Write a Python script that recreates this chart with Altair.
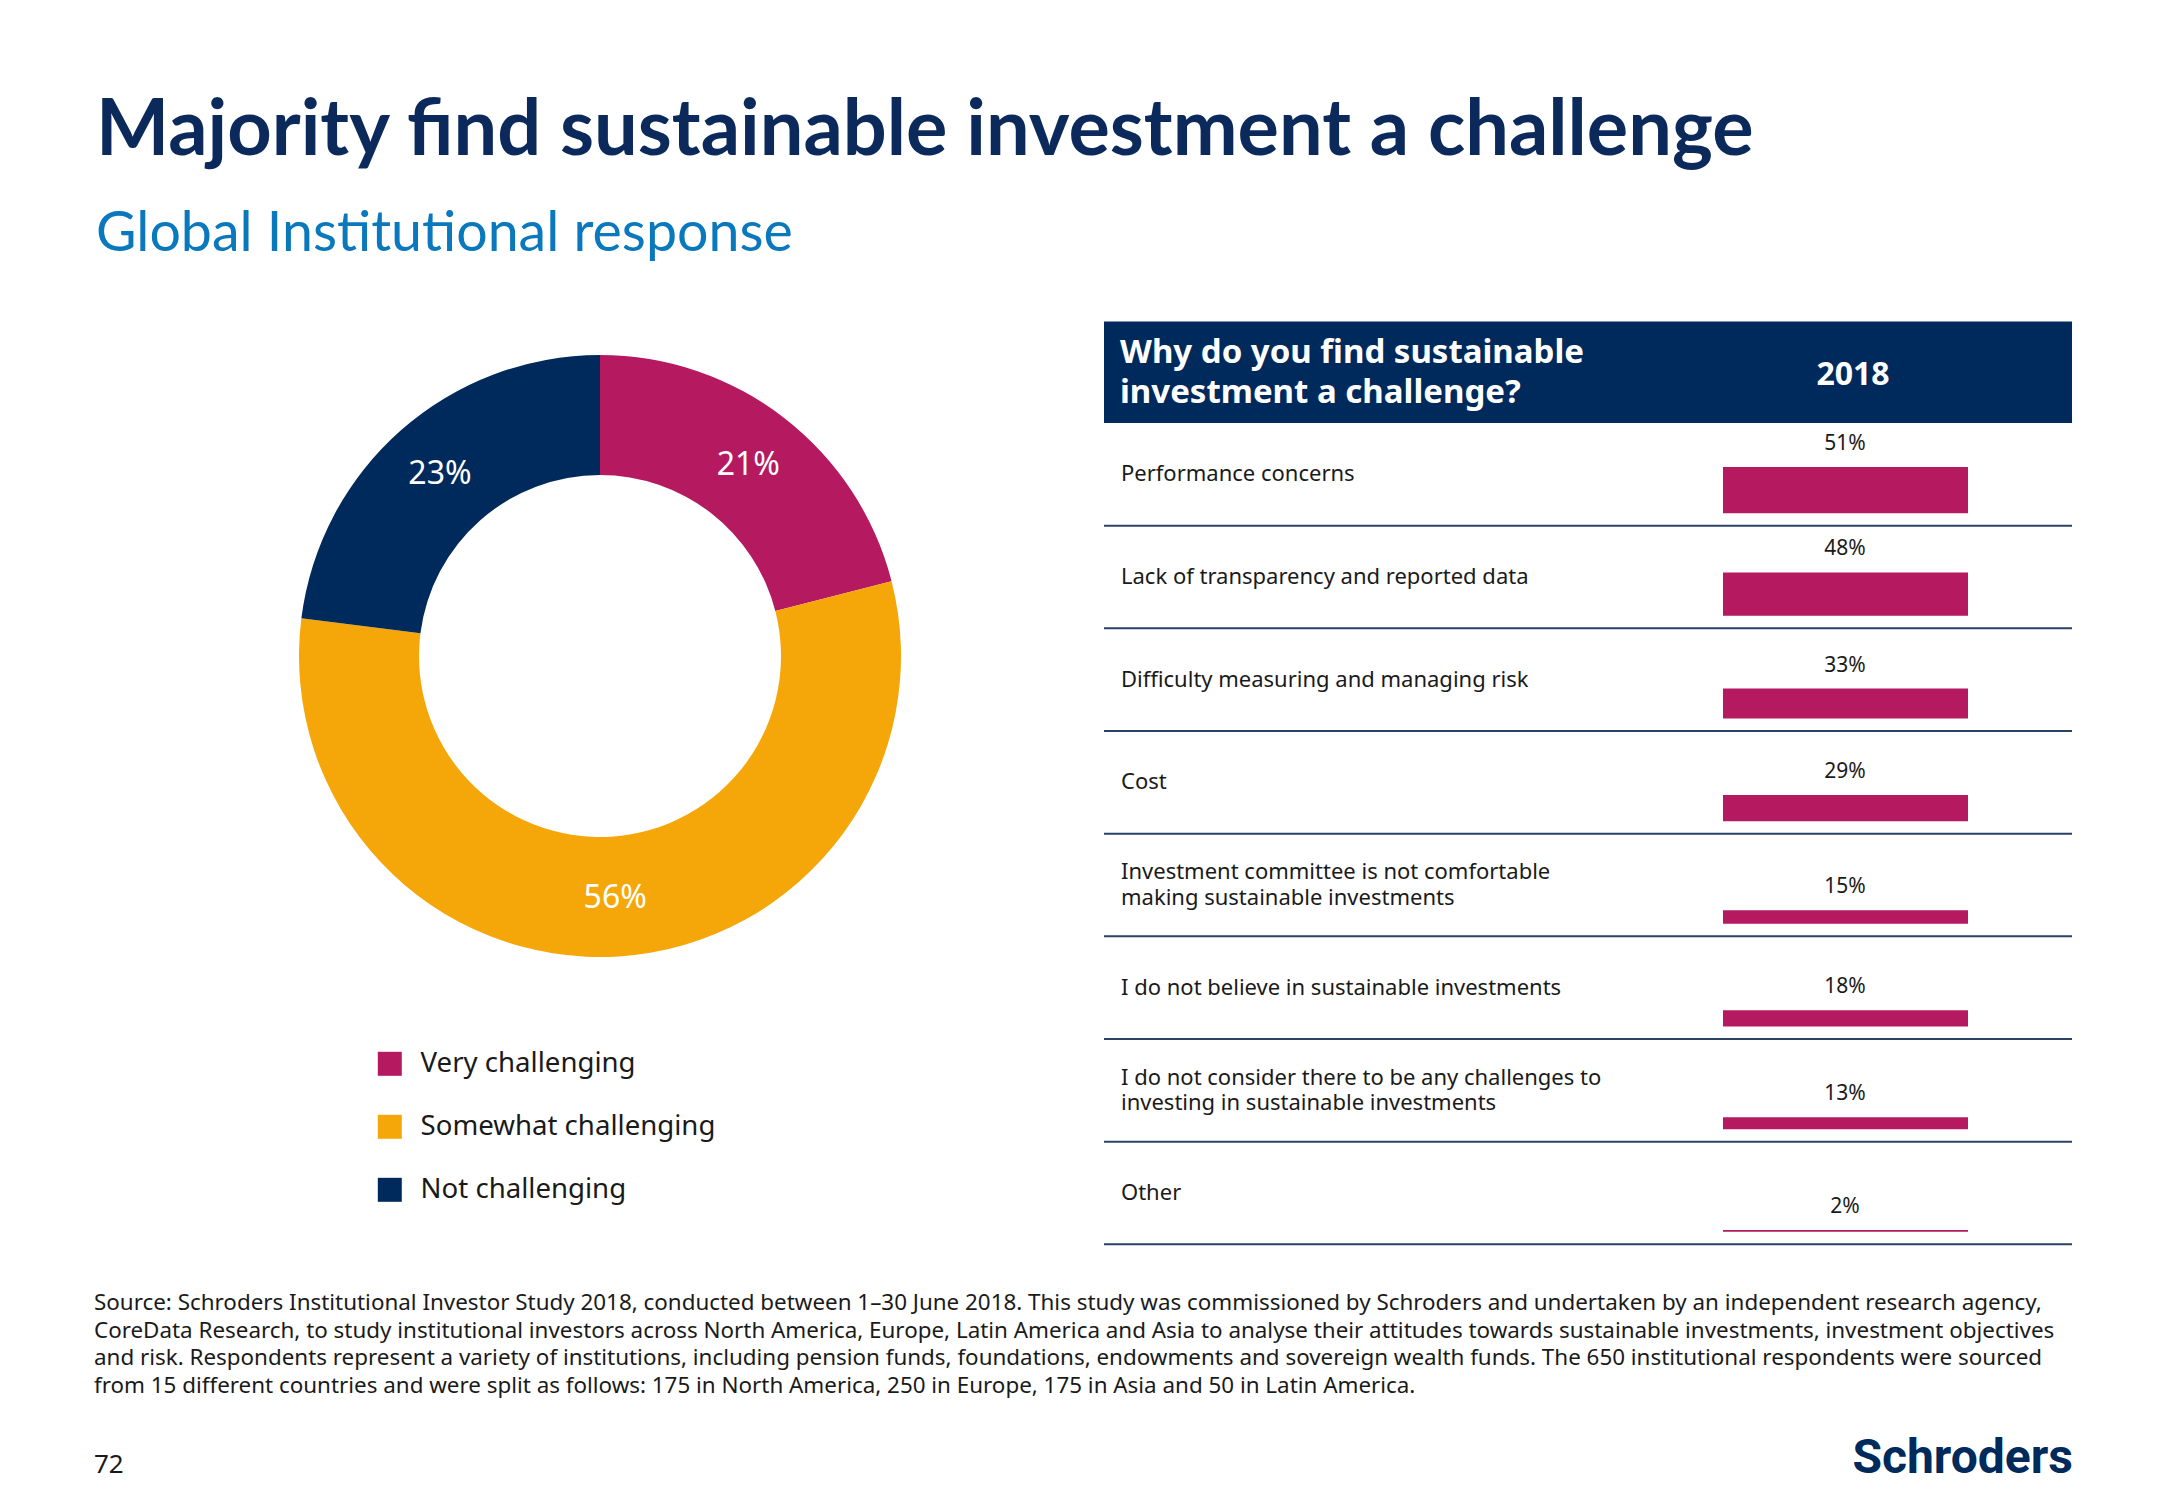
import altair as alt
import pandas as pd

# ---------------- data ----------------
title_text = "Majority find sustainable investment a challenge"
subtitle_text = "Global Institutional response"

donut_categories = ["Very challenging", "Somewhat challenging", "Not challenging"]
donut_values = [21, 56, 23]
donut_colors = ["#b5195f", "#f5a70a", "#002a5c"]

table_question = ["Why do you find sustainable", "investment a challenge?"]
table_year = "2018"
reasons = [
    "Performance concerns",
    "Lack of transparency and reported data",
    "Difficulty measuring and managing risk",
    "Cost",
    "Investment committee is not comfortable\nmaking sustainable investments",
    "I do not believe in sustainable investments",
    "I do not consider there to be any challenges to\ninvesting in sustainable investments",
    "Other",
]
reason_values = [51, 48, 33, 29, 15, 18, 13, 2]

footnote_lines = [
    "Source: Schroders Institutional Investor Study 2018, conducted between 1\u201330 June 2018. This study was commissioned by Schroders and undertaken by an independent research agency,",
    "CoreData Research, to study institutional investors across North America, Europe, Latin America and Asia to analyse their attitudes towards sustainable investments, investment objectives",
    "and risk. Respondents represent a variety of institutions, including pension funds, foundations, endowments and sovereign wealth funds. The 650 institutional respondents were sourced",
    "from 15 different countries and were split as follows: 175 in North America, 250 in Europe, 175 in Asia and 50 in Latin America.",
]
page_number = "72"
brand = "Schroders"

# ---------------- layout (page pixels, minus 8px page margin) ----------------
W, H = 2151, 1484
M = 8

NAVY = "#002a5c"
MAGENTA = "#b5195f"
TEXT = "#1a1a1a"
BODY_FONT = "Noto Sans"
HEAD_FONT = "Lato"

def text_layer(txt, x, y, **kw):
    return alt.Chart(pd.DataFrame({"t": [txt]})).mark_text(**kw).encode(
        x=alt.value(x), y=alt.value(y), text="t:N"
    )

title = text_layer(title_text, 96 - M, 155 - M, align="left", baseline="alphabetic",
                   font=HEAD_FONT, fontWeight="bold", fontSize=77.5, color="#0b2a5b")
subtitle = text_layer(subtitle_text, 96 - M, 251 - M, align="left", baseline="alphabetic",
                      font=HEAD_FONT, fontWeight="normal", fontSize=55.5, color="#0a78bd")

# ---------------- donut ----------------
donut_df = pd.DataFrame({
    "category": donut_categories,
    "value": donut_values,
    "idx": list(range(len(donut_values))),
    "label": [f"{v}%" for v in donut_values],
})
CX, CY = 600 - M, 656 - M
color_scale = alt.Scale(domain=donut_categories, range=donut_colors)
arcs = alt.Chart(donut_df).mark_arc(innerRadius=181, outerRadius=301).encode(
    x=alt.value(CX), y=alt.value(CY),
    theta=alt.Theta("value:Q", stack=True),
    order=alt.Order("idx:Q"),
    color=alt.Color("category:N", scale=color_scale, legend=alt.Legend(
        orient="none", legendX=376 - M, legendY=1050 - M, title=None,
        symbolType="square", symbolSize=576, symbolStrokeWidth=0,
        labelFont=BODY_FONT, labelFontSize=27.6, labelColor=TEXT, labelLimit=600,
        labelOffset=17, rowPadding=34, padding=0, offset=0,
    )),
)
arc_labels = alt.Chart(donut_df).mark_text(
    radius=242, font=BODY_FONT, fontSize=32, color="white", baseline="middle"
).encode(
    x=alt.value(CX), y=alt.value(CY),
    theta=alt.Theta("value:Q", stack=True),
    order=alt.Order("idx:Q"),
    detail="category:N",
    text="label:N",
)

# ---------------- table ----------------
TOP, BOTTOM = 423 - M, 1244.3 - M
N = len(reasons)
ROW_PX = (BOTTOM - TOP) / N
PX_PER_PCT = 0.905
ROW_U = ROW_PX / PX_PER_PCT
GAP_U = 12.5 / PX_PER_PCT
LINE_H = 25.5
HALF_LINE_U = LINE_H / 2 / PX_PER_PCT

table_df = pd.DataFrame({
    "reason": reasons,
    "value": reason_values,
    "idx": list(range(N)),
    "label": [f"{v}%" for v in reason_values],
})
yscale = alt.Scale(domain=[0, N * ROW_U], range=[BOTTOM, TOP], nice=False, zero=False)
tbase = alt.Chart(table_df).transform_calculate(
    base=f"({N - 1} - datum.idx) * {ROW_U}",
    nlines="length(split(datum.reason, '\\n'))",
).transform_calculate(
    bar_lo=f"datum.base + {GAP_U}",
    mid=f"datum.base + {ROW_U / 2} + (datum.nlines - 1) * {HALF_LINE_U}",
).transform_calculate(
    bar_hi="datum.bar_lo + datum.value",
)

TX0, TX1 = 1104 - M, 2072 - M
separators = tbase.mark_rule(color="#2a4168", strokeWidth=2).encode(
    x=alt.value(TX0), x2=alt.value(TX1),
    y=alt.Y("base:Q", scale=yscale, axis=None),
)
bars = tbase.mark_rect(color=MAGENTA).encode(
    x=alt.value(1723 - M), x2=alt.value(1968 - M),
    y=alt.Y("bar_hi:Q", scale=yscale, axis=None),
    y2="bar_lo:Q",
)
value_labels = tbase.mark_text(
    font=BODY_FONT, fontSize=21, color=TEXT, align="center", baseline="alphabetic", dy=-17
).encode(
    x=alt.value(1845 - M),
    y=alt.Y("bar_hi:Q", scale=yscale, axis=None),
    text="label:N",
)
row_labels = tbase.mark_text(
    font=BODY_FONT, fontSize=22, color=TEXT, align="left", baseline="middle",
    lineBreak="\n", lineHeight=LINE_H,
).encode(
    x=alt.value(1121 - M),
    y=alt.Y("mid:Q", scale=yscale, axis=None),
    text="reason:N",
)

header_rect = alt.Chart(pd.DataFrame({"k": [0]})).mark_rect(color=NAVY).encode(
    x=alt.value(TX0), x2=alt.value(TX1), y=alt.value(321.5 - M), y2=alt.value(TOP)
)
header_q = text_layer("\n".join(table_question), 1120 - M, 363 - M, align="left",
                      baseline="alphabetic", lineBreak="\n", lineHeight=40,
                      font=BODY_FONT, fontWeight="bold", fontSize=33, color="white")
header_y = text_layer(table_year, 1853 - M, 385 - M, align="center", baseline="alphabetic",
                      font=BODY_FONT, fontWeight="bold", fontSize=32, color="white")

# ---------------- footer ----------------
footnote = text_layer("\n".join(footnote_lines), 94 - M, 1310 - M, align="left",
                      baseline="alphabetic", lineBreak="\n", lineHeight=27.5,
                      font=BODY_FONT, fontSize=22.4, color=TEXT)
page_no = text_layer(page_number, 94 - M, 1473 - M, align="left", baseline="alphabetic",
                     font=BODY_FONT, fontSize=26, color=TEXT)
logo = text_layer(brand, 2073 - M, 1473 - M, align="right", baseline="alphabetic",
                  font="Roboto", fontWeight="bold", fontSize=48, color=NAVY)

chart = alt.layer(
    title, subtitle,
    arcs, arc_labels,
    header_rect, header_q, header_y,
    separators, bars, value_labels, row_labels,
    footnote, page_no, logo,
).properties(
    width=W, height=H, autosize="none", padding=0, background="white"
).configure_view(stroke=None)

chart.save("out.html", embed_options={"renderer": "svg", "actions": False})
